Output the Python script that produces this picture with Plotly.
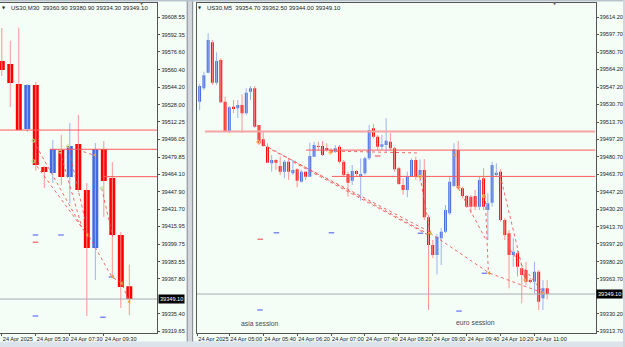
import plotly.graph_objects as go

W, H = 625, 347

# ---------------- data : US30 M30 (left window) ----------------
m30_idx = list(range(16))                      # 03:30 ... 11:00
m30_open = [39568.3, 39565.5, 39547.1, 39505.7, 39546.2, 39470.7, 39465.2, 39486.4,
            39461.5, 39491.9, 39449.5, 39396.1, 39487.3, 39460.6, 39408.1, 39360.9]
m30_high = [39598.7, 39587.0, 39599.0, 39547.1, 39549.0, 39471.6, 39495.6, 39500.2,
            39511.2, 39518.6, 39456.0, 39492.8, 39494.6, 39475.3, 39410.9, 39380.9]
m30_low = [39554.5, 39525.9, 39504.8, 39503.0, 39467.3, 39451.4, 39456.0, 39454.1,
           39437.5, 39447.7, 39333.5, 39366.7, 39424.7, 39369.4, 39340.9, 39334.3]
m30_close = [39560.0, 39548.0, 39504.8, 39546.2, 39472.6, 39466.1, 39487.3, 39461.5,
             39490.0, 39449.5, 39396.1, 39487.3, 39457.8, 39408.1, 39360.2, 39349.1]
m30_tick_idx = [0, 4, 8, 12]
m30_tick_text = ["24 Apr 2025", "24 Apr 05:30", "24 Apr 07:30", "24 Apr 09:30"]
m30_price_ticks = [39608.55, 39592.35, 39576.60, 39560.40, 39544.20, 39528.00, 39512.25,
                   39496.05, 39479.85, 39464.10, 39447.90, 39431.70, 39415.95, 39399.75,
                   39383.55, 39367.80, 39335.40, 39319.65]

# ---------------- data : US30 M5 (right window) ----------------
m5_idx = list(range(-8, 76))                   # 04:20 ... 11:15
m5_open = [39549.4, 39533.4, 39546.2, 39561.1, 39590.3, 39551.6, 39573.3, 39533.4,
           39504.6, 39528.6, 39527.0, 39530.2, 39522.2, 39542.9, 39546.2, 39511.0,
           39497.3, 39490.2, 39474.4, 39477.5, 39471.8, 39466.3, 39475.9, 39464.8,
           39468.6, 39456.7, 39466.3, 39461.5, 39480.7, 39490.9, 39490.9, 39488.7,
           39487.1, 39485.5, 39490.2, 39475.9, 39464.1, 39457.7, 39467.0, 39461.5,
           39464.8, 39479.1, 39507.9, 39499.8, 39490.2, 39491.9, 39495.0, 39488.7,
           39469.6, 39453.6, 39448.8, 39461.5, 39477.5, 39461.5, 39467.9, 39422.6,
           39396.1, 39386.5, 39402.5, 39408.8, 39426.5, 39452.6, 39487.1, 39450.4,
           39443.0, 39442.4, 39443.0, 39432.8, 39460.0, 39429.6, 39436.6, 39463.1,
           39466.3, 39420.0, 39407.3, 39386.5, 39388.1, 39373.8, 39372.1, 39362.6,
           39360.9, 39370.5, 39345.0, 39354.7]
m5_high = [39556.1, 39550.3, 39562.1, 39598.9, 39592.5, 39580.7, 39575.2, 39538.1,
           39529.2, 39535.0, 39535.0, 39540.4, 39546.2, 39548.4, 39548.4, 39511.0,
           39505.6, 39493.5, 39482.3, 39478.2, 39480.7, 39477.5, 39479.1, 39477.5,
           39469.6, 39467.9, 39466.3, 39494.1, 39495.0, 39495.0, 39495.7, 39493.5,
           39489.0, 39491.9, 39491.9, 39477.5, 39466.3, 39472.7, 39467.9, 39479.1,
           39480.7, 39511.0, 39512.0, 39501.5, 39501.5, 39517.5, 39503.1, 39490.2,
           39471.1, 39460.0, 39466.3, 39479.1, 39480.7, 39478.2, 39478.5, 39424.8,
           39400.9, 39406.6, 39412.4, 39434.4, 39461.5, 39493.5, 39495.7, 39451.9,
           39444.0, 39444.0, 39448.8, 39461.5, 39469.6, 39445.6, 39475.9, 39474.4,
           39468.6, 39421.7, 39410.5, 39402.8, 39391.3, 39375.3, 39380.1, 39364.5,
           39380.1, 39372.1, 39362.6, 39362.5]
m5_low = [39525.4, 39525.4, 39544.6, 39560.6, 39549.4, 39549.4, 39532.1, 39504.3,
          39503.4, 39522.5, 39517.7, 39503.4, 39520.6, 39535.0, 39508.2, 39491.9,
          39490.0, 39474.6, 39466.3, 39467.9, 39463.1, 39460.0, 39458.4, 39463.1,
          39451.4, 39455.8, 39458.4, 39461.2, 39480.4, 39487.1, 39481.3, 39485.5,
          39483.3, 39484.2, 39474.4, 39461.5, 39442.4, 39453.6, 39461.5, 39438.5,
          39463.1, 39477.5, 39498.3, 39487.1, 39487.1, 39485.5, 39487.1, 39466.3,
          39453.6, 39444.0, 39441.8, 39461.2, 39458.4, 39456.7, 39420.0, 39333.8,
          39383.6, 39368.0, 39376.9, 39407.6, 39424.8, 39451.6, 39448.8, 39440.8,
          39431.5, 39426.5, 39429.6, 39429.6, 39429.6, 39400.9, 39432.8, 39461.5,
          39418.4, 39400.9, 39354.6, 39375.3, 39365.7, 39340.2, 39357.8, 39359.4,
          39349.8, 39333.8, 39333.8, 39344.0]
m5_close = [39533.4, 39548.4, 39558.6, 39592.5, 39551.6, 39572.3, 39532.8, 39504.6,
            39528.0, 39527.0, 39530.2, 39522.2, 39542.0, 39546.2, 39509.4, 39493.5,
            39490.9, 39474.9, 39477.5, 39474.9, 39466.3, 39475.9, 39466.3, 39467.9,
            39457.7, 39466.3, 39461.5, 39481.3, 39491.9, 39490.0, 39482.3, 39487.1,
            39484.5, 39488.7, 39475.9, 39463.1, 39455.8, 39467.0, 39464.1, 39464.1,
            39479.1, 39506.2, 39499.8, 39490.2, 39492.5, 39496.0, 39488.7, 39468.6,
            39454.5, 39448.8, 39461.5, 39477.5, 39461.5, 39467.9, 39422.6, 39396.1,
            39386.5, 39404.0, 39408.8, 39429.6, 39456.7, 39487.8, 39450.4, 39443.0,
            39432.8, 39432.8, 39432.8, 39458.4, 39432.8, 39436.0, 39472.7, 39465.3,
            39420.0, 39405.7, 39386.5, 39389.7, 39375.3, 39367.4, 39360.9, 39360.9,
            39370.5, 39341.8, 39354.6, 39349.1]
m5_tick_idx = [-7.55, 0, 8, 16, 24, 32, 40, 48, 56, 64, 72]
m5_tick_text = ["24 Apr 2025", "24 Apr 05:00", "24 Apr 05:40", "24 Apr 06:20", "24 Apr 07:00",
                "24 Apr 07:40", "24 Apr 08:20", "24 Apr 09:00", "24 Apr 09:40", "24 Apr 10:20",
                "24 Apr 11:00"]
m5_price_ticks = [39614.20, 39597.70, 39580.70, 39564.20, 39547.20, 39530.70, 39513.70,
                  39497.20, 39480.70, 39463.70, 39447.20, 39430.20, 39413.70, 39397.20,
                  39380.20, 39363.70, 39330.20, 39313.70]

# horizontal levels (same prices on both charts) and where they start
level_prices = [39504.7, 39487.0, 39461.8]
m30_level_start = [-0.3, 5.7, 11.9]
m5_level_start = [-5.75, 18.1, 24.2]
last_price = 39349.10

# dotted trend segments  (index, price) lists
m30_trend = [
    [(3.71, 39494.9), (9.59, 39412.7)],
    [(3.71, 39476.0), (10.06, 39408.1)],
    [(6.85, 39484.8), (9.40, 39415.7)],
    [(7.82, 39490.0), (9.79, 39421.9)],
    [(9.59, 39484.8), (11.16, 39480.8)],
    [(11.75, 39451.1), (13.05, 39406.5)],
    [(10.29, 39406.5), (12.93, 39369.7), (14.11, 39363.6), (15.0, 39346.7)],
]
m5_trend = [
    [(6.78, 39495.0), (47.38, 39405.7)],
    [(10.08, 39487.1), (47.38, 39408.5)],
    [(15.04, 39475.6), (47.38, 39404.7)],
    [(23.77, 39486.1), (45.0, 39484.2)],
    [(45.0, 39461.2), (47.38, 39408.5)],
    [(47.38, 39407.6), (61.3, 39369.3), (74.05, 39350.1)],
    [(60.37, 39444.0), (61.13, 39369.3)],
    [(54.06, 39450.4), (60.37, 39402.5)],
    [(63.9, 39463.1), (69.8, 39362.6)],
    [(66.27, 39391.3), (74.05, 39350.1)],
]
m30_arrows = [(10.96, 39481.8), (10.06, 39408.1), (13.05, 39369.7), (14.11, 39363.6), (15.0, 39346.7)]
m5_arrows = [(47.38, 39407.6), (61.3, 39369.3), (69.8, 39362.6), (74.05, 39350.1), (53.3, 39482.3)]
m30_blue_marks = [(3.96, 39408.1), (6.96, 39408.1), (3.96, 39333.5), (11.9, 39332.3), (12.9, 39369.4)]
m30_red_marks = [(3.96, 39401.4)]
m5_blue_marks = [(11.1, 39407.9), (24.1, 39407.9), (7.25, 39333.8), (54.2, 39332.8),
                 (60.2, 39369.0), (45.1, 39407.3)]
m5_red_marks = [(7.3, 39401.5), (35.0, 39481.3)]
m30_dots = [(3.71, 39494.9), (3.71, 39476.0), (6.85, 39484.8), (7.82, 39490.0), (11.75, 39451.1)]
m5_dots = [(6.8, 39494.8), (23.8, 39484.5), (45.0, 39461.5), (54.1, 39451.0), (60.0, 39443.0)]

sessions = [("asia session", 7.13, 39321.1), ("euro session", 58.2, 39321.4)]

# ---------------- styling ----------------
BG = "#F4FEF7"
BULL, BEAR = "#4169E1", "#FF0000"
BULL_W, BEAR_W = "#9FB2EE", "#FF9494"
AX = "#555555"
FONT = "Liberation Sans, Arial, sans-serif"
FS = 5.6

fig = go.Figure()


def add_candles(xs, o, h, l, c, width, xa, ya):
    up = [k for k in range(len(xs)) if c[k] >= o[k]]
    dn = [k for k in range(len(xs)) if c[k] < o[k]]
    for idx, body, wick in ((up, BULL, BULL_W), (dn, BEAR, BEAR_W)):
        wx, wy = [], []
        for k in idx:
            wx += [xs[k], xs[k], None]
            wy += [l[k], h[k], None]
        fig.add_trace(go.Scatter(x=wx, y=wy, mode="lines", line=dict(color=wick, width=1),
                                 xaxis=xa, yaxis=ya, hoverinfo="skip", showlegend=False))
        fig.add_trace(go.Bar(x=[xs[k] for k in idx],
                             y=[max(abs(c[k] - o[k]), 0.9) for k in idx],
                             base=[min(o[k], c[k]) for k in idx], width=width,
                             marker=dict(color=body, line=dict(width=0)),
                             xaxis=xa, yaxis=ya, hoverinfo="skip", showlegend=False))


def add_overlays(trend, arrows, blues, reds, dots, starts, x_end, xa, ya, thick_first):
    for seg in trend:
        fig.add_trace(go.Scatter(x=[p[0] for p in seg], y=[p[1] for p in seg], mode="lines",
                                 line=dict(color="rgba(240,80,80,0.85)", width=1, dash="dot"),
                                 xaxis=xa, yaxis=ya, hoverinfo="skip", showlegend=False))
    for n, (lv, st) in enumerate(zip(level_prices, starts)):
        if n == 0 and thick_first:
            ln = dict(color="#F5A3A3", width=2)
        else:
            ln = dict(color="#FF5A5A", width=1)
        fig.add_trace(go.Scatter(x=[st, x_end], y=[lv, lv], mode="lines", line=ln,
                                 xaxis=xa, yaxis=ya, hoverinfo="skip", showlegend=False))
    fig.add_trace(go.Scatter(x=[starts[0] - 20, x_end], y=[last_price, last_price], mode="lines",
                             line=dict(color="#A7ACB2", width=1),
                             xaxis=xa, yaxis=ya, hoverinfo="skip", showlegend=False))
    fig.add_trace(go.Scatter(x=[p[0] for p in blues], y=[p[1] for p in blues], mode="markers",
                             marker=dict(symbol="line-ew", size=4, line=dict(color="#7F8CF5", width=1.5)),
                             xaxis=xa, yaxis=ya, hoverinfo="skip", showlegend=False))
    fig.add_trace(go.Scatter(x=[p[0] for p in reds], y=[p[1] for p in reds], mode="markers",
                             marker=dict(symbol="line-ew", size=4, line=dict(color="#F08080", width=1.5)),
                             xaxis=xa, yaxis=ya, hoverinfo="skip", showlegend=False))
    fig.add_trace(go.Scatter(x=[p[0] for p in dots], y=[p[1] for p in dots], mode="markers",
                             marker=dict(symbol="circle-open", size=3, line=dict(color="#E03030", width=1)),
                             xaxis=xa, yaxis=ya, hoverinfo="skip", showlegend=False))
    fig.add_trace(go.Scatter(x=[p[0] for p in arrows], y=[p[1] for p in arrows], mode="markers",
                             marker=dict(symbol="triangle-left", size=4, color="#E8A040"),
                             xaxis=xa, yaxis=ya, hoverinfo="skip", showlegend=False))


# window geometry (pixels)
LX0, LX1 = 0.0, 157.3
RX0, RX1 = 197.0, 595.5
PY0, PY1 = 3.0, 333.0
m30_range = [-0.21, 18.29]
m5_range = [-7.625, 86.4]
m30_yrange = [39317.85, 39621.7]
m5_yrange = [39311.8, 39627.9]

add_candles(m30_idx, m30_open, m30_high, m30_low, m30_close, 0.7, "x", "y")
add_overlays(m30_trend, m30_arrows, m30_blue_marks, m30_red_marks, m30_dots,
             m30_level_start, m30_range[1], "x", "y", False)
add_candles(m5_idx, m5_open, m5_high, m5_low, m5_close, 0.68, "x2", "y2")
add_overlays(m5_trend, m5_arrows, m5_blue_marks, m5_red_marks, m5_dots,
             m5_level_start, m5_range[1], "x2", "y2", True)

ydom = [(H - PY1) / H, (H - PY0) / H]
common_x = dict(showgrid=False, zeroline=False, showline=True, linecolor=AX, linewidth=1,
                mirror=True, ticks="outside", ticklen=2, tickcolor=AX, tickangle=0,
                automargin=False, ticklabelposition="outside right",
                tickfont=dict(family=FONT, size=FS, color="#222222"), fixedrange=True)
common_y = dict(showgrid=False, zeroline=False, showline=True, linecolor=AX, linewidth=1,
                mirror=True, ticks="outside", ticklen=2, tickcolor=AX, side="right",
                automargin=False,
                tickfont=dict(family=FONT, size=FS, color="#222222"), fixedrange=True)

fig.update_layout(
    width=W, height=H, margin=dict(l=0, r=0, t=0, b=0, pad=0), autosize=False,
    paper_bgcolor=BG, plot_bgcolor=BG, barmode="overlay", showlegend=False,
    xaxis=dict(common_x, domain=[LX0 / W, LX1 / W], range=m30_range,
               tickvals=m30_tick_idx, ticktext=m30_tick_text, anchor="y"),
    yaxis=dict(common_y, domain=ydom, range=m30_yrange, anchor="x",
               tickvals=m30_price_ticks, ticktext=[f"{v:.2f}" for v in m30_price_ticks]),
    xaxis2=dict(common_x, domain=[RX0 / W, RX1 / W], range=m5_range,
                tickvals=m5_tick_idx, ticktext=m5_tick_text, anchor="y2"),
    yaxis2=dict(common_y, domain=ydom, range=m5_yrange, anchor="x2",
                tickvals=m5_price_ticks, ticktext=[f"{v:.2f}" for v in m5_price_ticks]),
)

# window frame pieces
shapes = [
    dict(type="rect", xref="paper", yref="paper", x0=186 / W, x1=193.5 / W, y0=0, y1=1,
         fillcolor="#D3D7DC", line=dict(width=0), layer="above"),
    dict(type="line", xref="paper", yref="paper", x0=187.5 / W, x1=187.5 / W, y0=0, y1=1,
         line=dict(color="#9EA4AA", width=1), layer="above"),
    dict(type="line", xref="paper", yref="paper", x0=192.5 / W, x1=192.5 / W, y0=0, y1=1,
         line=dict(color="#8C9298", width=1), layer="above"),
    dict(type="rect", xref="paper", yref="paper", x0=0, x1=1, y0=0, y1=5.5 / H,
         fillcolor="#DCE3EB", line=dict(width=0), layer="above"),
    dict(type="rect", xref="paper", yref="paper", x0=0, x1=1, y0=(H - 1.5) / H, y1=1,
         fillcolor="#B9C3CE", line=dict(width=0), layer="above"),
    dict(type="rect", xref="paper", yref="paper", x0=623 / W, x1=1, y0=0, y1=1,
         fillcolor="#D3D7DC", line=dict(width=0), layer="above"),
]
fig.update_layout(shapes=shapes)

ann = []
hdr_y = (H - 7.5) / H
for x_tri, x_txt, txt in [(4, 9, "US30,M30  39360.90 39380.90 39334.30 39349.10"),
                          (199.5, 205, "US30,M5  39354.70 39362.50 39344.00 39349.10")]:
    ann.append(dict(xref="paper", yref="paper", x=x_tri / W, y=hdr_y, text="▼", showarrow=False,
                    font=dict(family="DejaVu Sans", size=4, color="#222222"),
                    xanchor="center", yanchor="middle"))
    ann.append(dict(xref="paper", yref="paper", x=x_txt / W, y=hdr_y, text=txt, showarrow=False,
                    font=dict(family=FONT, size=6.0, color="#222222"),
                    xanchor="left", yanchor="middle"))
for xs in (141.5, 555.0):
    ann.append(dict(xref="paper", yref="paper", x=xs / W, y=(H - 4) / H, text="▼", showarrow=False,
                    font=dict(family="DejaVu Sans", size=4, color="#6A6A6A"),
                    xanchor="center", yanchor="middle"))
for xp, ya in ((LX1 + 0.5, "y"), (RX1 + 0.5, "y2")):
    ann.append(dict(xref="paper", yref=ya, x=xp / W, y=last_price, text=f"{last_price:.2f}",
                    showarrow=False, xanchor="left", yanchor="middle", bgcolor="#000000",
                    borderpad=1, font=dict(family=FONT, size=FS, color="#FFFFFF")))
for txt, xi, pr in sessions:
    ann.append(dict(xref="x2", yref="y2", x=xi, y=pr, text=txt, showarrow=False,
                    font=dict(family=FONT, size=6.8, color="#4A4A4A"),
                    xanchor="center", yanchor="middle"))
fig.update_layout(annotations=ann)

fig.write_html("out.html")
